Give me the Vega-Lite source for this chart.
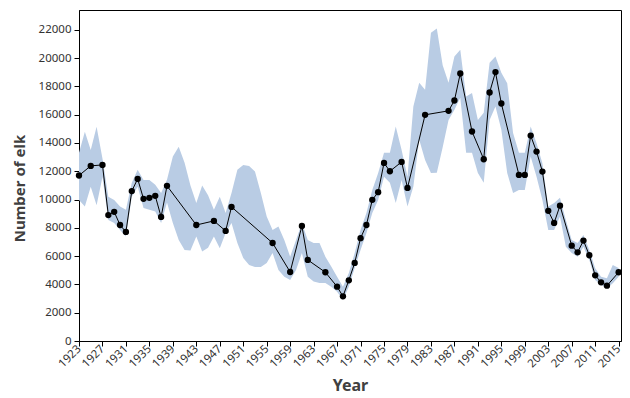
{
  "$schema": "https://vega.github.io/schema/vega-lite/v6.json",
  "autosize": {"type": "none"},
  "width": 542,
  "height": 331,
  "padding": {"left": 79, "top": 10, "right": 9, "bottom": 57},
  "background": "white",
  "config": {
    "view": {"stroke": "black", "strokeWidth": 1},
    "axis": {
      "grid": false,
      "domainColor": "black",
      "tickColor": "black",
      "labelOverlap": false,
      "labelFont": "Noto Sans",
      "labelFontSize": 11.5,
      "labelColor": "#333333",
      "titleFont": "Noto Sans",
      "titleFontSize": 15,
      "titleFontWeight": "bold",
      "titleColor": "#404040"
    },
    "axisX": {"labelOverlap": false},
    "axisY": {"labelOverlap": false},
    "axisQuantitative": {"labelOverlap": false}
  },
  "datasets": {
    "counts": [
      {"year": 1923, "elk": 11700}, {"year": 1925, "elk": 12380}, {"year": 1927, "elk": 12450},
      {"year": 1928, "elk": 8900}, {"year": 1929, "elk": 9130}, {"year": 1930, "elk": 8200},
      {"year": 1931, "elk": 7710}, {"year": 1932, "elk": 10600}, {"year": 1933, "elk": 11460},
      {"year": 1934, "elk": 10050}, {"year": 1935, "elk": 10120}, {"year": 1936, "elk": 10260},
      {"year": 1937, "elk": 8770}, {"year": 1938, "elk": 10970}, {"year": 1943, "elk": 8200},
      {"year": 1946, "elk": 8490}, {"year": 1948, "elk": 7780}, {"year": 1949, "elk": 9480},
      {"year": 1956, "elk": 6930}, {"year": 1959, "elk": 4880}, {"year": 1961, "elk": 8130},
      {"year": 1962, "elk": 5730}, {"year": 1965, "elk": 4860}, {"year": 1967, "elk": 3840},
      {"year": 1968, "elk": 3160}, {"year": 1969, "elk": 4290}, {"year": 1970, "elk": 5520},
      {"year": 1971, "elk": 7270}, {"year": 1972, "elk": 8200}, {"year": 1973, "elk": 9980},
      {"year": 1974, "elk": 10520}, {"year": 1975, "elk": 12590}, {"year": 1976, "elk": 12000},
      {"year": 1978, "elk": 12660}, {"year": 1979, "elk": 10820}, {"year": 1982, "elk": 15990},
      {"year": 1986, "elk": 16270}, {"year": 1987, "elk": 17000}, {"year": 1988, "elk": 18910},
      {"year": 1990, "elk": 14810}, {"year": 1992, "elk": 12850}, {"year": 1993, "elk": 17570},
      {"year": 1994, "elk": 19010}, {"year": 1995, "elk": 16790}, {"year": 1998, "elk": 11740},
      {"year": 1999, "elk": 11740}, {"year": 2000, "elk": 14520}, {"year": 2001, "elk": 13390},
      {"year": 2002, "elk": 11980}, {"year": 2003, "elk": 9200}, {"year": 2004, "elk": 8350},
      {"year": 2005, "elk": 9570}, {"year": 2007, "elk": 6740}, {"year": 2008, "elk": 6270},
      {"year": 2009, "elk": 7100}, {"year": 2010, "elk": 6060}, {"year": 2011, "elk": 4640},
      {"year": 2012, "elk": 4150}, {"year": 2013, "elk": 3910}, {"year": 2015, "elk": 4860}
    ],
    "band": [
      {"year": 1923, "lo": 9970, "hi": 13300}, {"year": 1924, "lo": 9500, "hi": 14800},
      {"year": 1925, "lo": 10900, "hi": 13500}, {"year": 1926, "lo": 9600, "hi": 15150},
      {"year": 1927, "lo": 11600, "hi": 12900}, {"year": 1928, "lo": 8560, "hi": 10200},
      {"year": 1929, "lo": 8350, "hi": 9970}, {"year": 1930, "lo": 7850, "hi": 9500},
      {"year": 1931, "lo": 7380, "hi": 9270}, {"year": 1932, "lo": 10200, "hi": 11180},
      {"year": 1933, "lo": 10900, "hi": 12100}, {"year": 1934, "lo": 9400, "hi": 11390},
      {"year": 1935, "lo": 9270, "hi": 11390}, {"year": 1936, "lo": 9150, "hi": 11040},
      {"year": 1937, "lo": 8350, "hi": 10470}, {"year": 1938, "lo": 9800, "hi": 11400},
      {"year": 1939, "lo": 8350, "hi": 13040}, {"year": 1940, "lo": 7140, "hi": 13740},
      {"year": 1941, "lo": 6440, "hi": 12600}, {"year": 1942, "lo": 6400, "hi": 11000},
      {"year": 1943, "lo": 7380, "hi": 9760}, {"year": 1944, "lo": 6320, "hi": 11000},
      {"year": 1945, "lo": 6600, "hi": 10300}, {"year": 1946, "lo": 7380, "hi": 9270},
      {"year": 1947, "lo": 6560, "hi": 10200}, {"year": 1948, "lo": 7640, "hi": 9050},
      {"year": 1949, "lo": 8350, "hi": 10470}, {"year": 1950, "lo": 6930, "hi": 12100},
      {"year": 1951, "lo": 5870, "hi": 12450}, {"year": 1952, "lo": 5380, "hi": 12380},
      {"year": 1953, "lo": 5230, "hi": 11980}, {"year": 1954, "lo": 5230, "hi": 10470},
      {"year": 1955, "lo": 5520, "hi": 8800}, {"year": 1956, "lo": 6220, "hi": 7850},
      {"year": 1957, "lo": 5020, "hi": 8090}, {"year": 1958, "lo": 4550, "hi": 7140},
      {"year": 1959, "lo": 4320, "hi": 5960}, {"year": 1960, "lo": 5020, "hi": 7140},
      {"year": 1961, "lo": 6220, "hi": 8350}, {"year": 1962, "lo": 4550, "hi": 7140},
      {"year": 1963, "lo": 4200, "hi": 6930}, {"year": 1964, "lo": 4100, "hi": 6930},
      {"year": 1965, "lo": 4100, "hi": 5960}, {"year": 1966, "lo": 3840, "hi": 5260},
      {"year": 1967, "lo": 3490, "hi": 4550}, {"year": 1968, "lo": 2900, "hi": 3840},
      {"year": 1969, "lo": 3840, "hi": 4810}, {"year": 1970, "lo": 5160, "hi": 6220},
      {"year": 1971, "lo": 6440, "hi": 7850}, {"year": 1972, "lo": 7640, "hi": 9050},
      {"year": 1973, "lo": 9050, "hi": 10680}, {"year": 1974, "lo": 9970, "hi": 11880},
      {"year": 1975, "lo": 11620, "hi": 13300}, {"year": 1976, "lo": 11180, "hi": 13300},
      {"year": 1977, "lo": 9760, "hi": 15160}, {"year": 1978, "lo": 11390, "hi": 13510},
      {"year": 1979, "lo": 9500, "hi": 11620}, {"year": 1980, "lo": 10920, "hi": 16570},
      {"year": 1981, "lo": 14220, "hi": 18250}, {"year": 1982, "lo": 12800, "hi": 17760},
      {"year": 1983, "lo": 11880, "hi": 21790}, {"year": 1984, "lo": 11900, "hi": 22100},
      {"year": 1985, "lo": 13700, "hi": 19500}, {"year": 1986, "lo": 15630, "hi": 18250},
      {"year": 1987, "lo": 16340, "hi": 20120}, {"year": 1988, "lo": 17200, "hi": 20590},
      {"year": 1989, "lo": 13300, "hi": 17280}, {"year": 1990, "lo": 13300, "hi": 17540},
      {"year": 1991, "lo": 11880, "hi": 15630}, {"year": 1992, "lo": 11180, "hi": 16130},
      {"year": 1993, "lo": 15630, "hi": 19670}, {"year": 1994, "lo": 16570, "hi": 20120},
      {"year": 1995, "lo": 14930, "hi": 18960}, {"year": 1996, "lo": 11880, "hi": 18230},
      {"year": 1997, "lo": 10470, "hi": 14710}, {"year": 1998, "lo": 10680, "hi": 13300},
      {"year": 1999, "lo": 10680, "hi": 13300}, {"year": 2000, "lo": 13040, "hi": 15160},
      {"year": 2001, "lo": 11620, "hi": 13980}, {"year": 2002, "lo": 9970, "hi": 12570},
      {"year": 2003, "lo": 7850, "hi": 9500}, {"year": 2004, "lo": 7850, "hi": 9760},
      {"year": 2005, "lo": 8800, "hi": 10120}, {"year": 2006, "lo": 6670, "hi": 8560},
      {"year": 2007, "lo": 6220, "hi": 7140}, {"year": 2008, "lo": 5960, "hi": 6930},
      {"year": 2009, "lo": 6670, "hi": 7500}, {"year": 2010, "lo": 5730, "hi": 6440},
      {"year": 2011, "lo": 4320, "hi": 5140}, {"year": 2012, "lo": 3960, "hi": 4550},
      {"year": 2013, "lo": 3730, "hi": 4430}, {"year": 2014, "lo": 4080, "hi": 5380},
      {"year": 2015, "lo": 4550, "hi": 5160}
    ]
  },
  "encoding": {
    "x": {
      "field": "year", "type": "quantitative",
      "scale": {"domain": [1923, 2015.4], "nice": false, "zero": false},
      "axis": {
        "title": "Year",
        "values": [1923,1927,1931,1935,1939,1943,1947,1951,1955,1959,1963,1967,1971,1975,1979,1983,1987,1991,1995,1999,2003,2007,2011,2015],
        "format": "d",
        "labelAngle": -45,
        "labelAlign": "right",
        "labelBaseline": "middle",
        "labelPadding": 1,
        "tickSize": 5,
        "labelFlush": false,
        "labelOverlap": false,
        "labelSeparation": 0,
        "labelBound": false,
        "titlePadding": 8,
        "titleFontSize": 16
      }
    },
    "y": {
      "field": "elk", "type": "quantitative",
      "scale": {"domain": [0, 23400], "nice": false},
      "axis": {
        "title": "Number of elk",
        "values": [0,2000,4000,6000,8000,10000,12000,14000,16000,18000,20000,22000],
        "format": "d",
        "tickSize": 5,
        "labelPadding": 3,
        "labelFlush": false,
        "labelOverlap": false,
        "labelBound": false,
        "titleX": -60,
        "titleY": 178,
        "titleAlign": "center",
        "titleBaseline": "middle",
        "titleAngle": -90
      }
    }
  },
  "layer": [
    {
      "data": {"name": "band"},
      "mark": {"type": "area", "color": "#b9cce4", "opacity": 1},
      "encoding": {
        "y": {
          "field": "lo", "type": "quantitative",
          "scale": {"domain": [0, 23400], "nice": false},
          "axis": {
            "title": "Number of elk",
            "values": [0,2000,4000,6000,8000,10000,12000,14000,16000,18000,20000,22000],
            "format": "d",
            "tickSize": 5,
            "labelPadding": 3,
            "labelFlush": false,
            "labelOverlap": false,
            "labelBound": false,
            "titleX": -60,
            "titleY": 178,
            "titleAlign": "center",
            "titleBaseline": "middle",
            "titleAngle": -90
          }
        },
        "y2": {"field": "hi"}
      }
    },
    {
      "data": {"name": "counts"},
      "mark": {"type": "line", "color": "black", "strokeWidth": 1}
    },
    {
      "data": {"name": "counts"},
      "mark": {"type": "point", "filled": true, "color": "black", "size": 40, "opacity": 1}
    }
  ]
}
